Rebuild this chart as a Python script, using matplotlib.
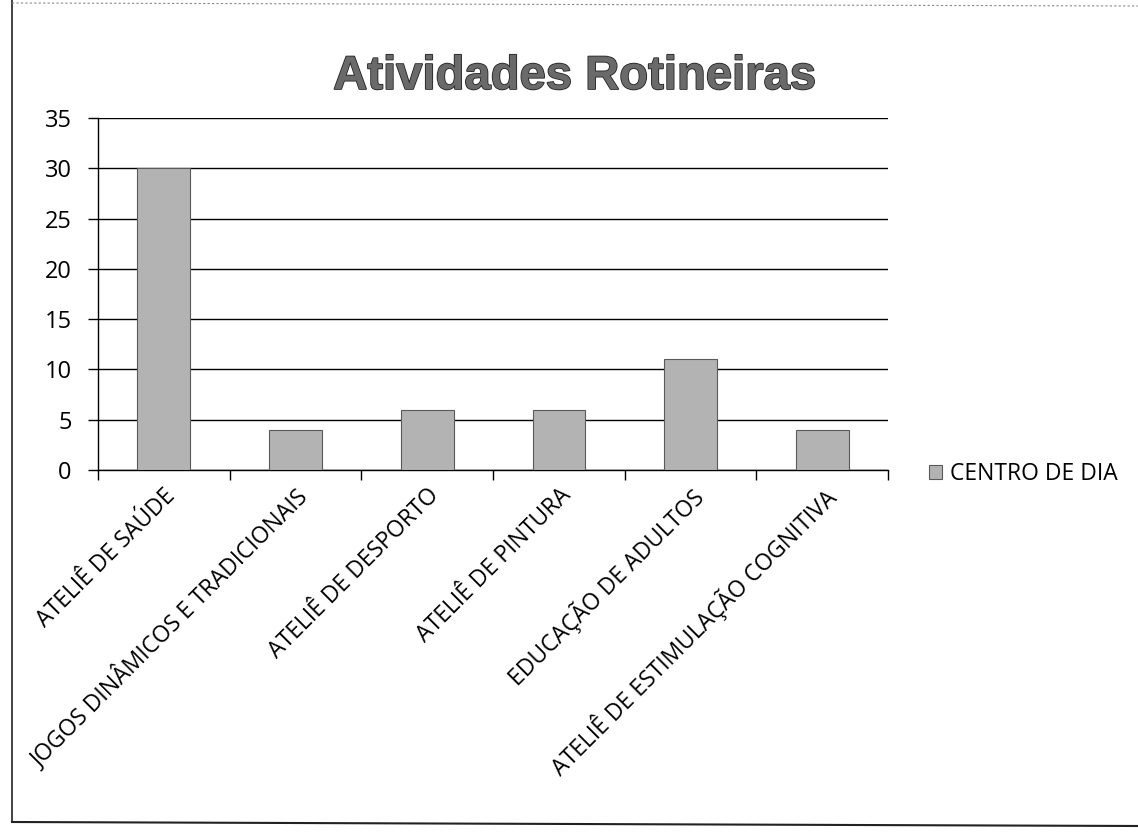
import matplotlib
matplotlib.use("Agg")
import matplotlib.pyplot as plt
from matplotlib.lines import Line2D
import matplotlib.patheffects as pe

categories = ["ATELIÊ DE SAÚDE", "JOGOS DINÂMICOS E TRADICIONAIS", "ATELIÊ DE DESPORTO",
              "ATELIÊ DE PINTURA", "EDUCAÇÃO DE ADULTOS", "ATELIÊ DE ESTIMULAÇÃO COGNITIVA"]
values = [30, 4, 6, 6, 11, 4]
series_name = "CENTRO DE DIA"
title = "Atividades Rotineiras"
yticks = [0, 5, 10, 15, 20, 25, 30, 35]

W, H = 1138, 835
fig = plt.figure(figsize=(W / 100, H / 100), dpi=100)
fig.patch.set_facecolor("white")

ax = fig.add_axes([98 / W, 1 - 470 / H, (888 - 98) / W, (470 - 118) / H])
x = list(range(len(categories)))
bars = ax.bar(x, values, width=0.4, color="#b3b3b3", edgecolor="#5a5a5a",
              linewidth=0.8, label=series_name, zorder=3)

ax.set_xlim(-0.5, len(categories) - 0.5)
ax.set_ylim(0, 35)
ax.set_yticks(yticks)
ax.set_yticklabels([str(v) for v in yticks], fontsize=17, family="Open Sans")
ax.yaxis.grid(True, color="black", linewidth=1.0, zorder=0)
ax.set_axisbelow(True)

ax.set_xticks(x)
ax.set_xticklabels(categories, rotation=45, ha="right", rotation_mode="anchor",
                   fontsize=16.5, family="Open Sans")
ax.set_xticks([i - 0.5 for i in range(len(categories) + 1)], minor=True)
ax.tick_params(axis="x", which="major", length=0, pad=10)
ax.tick_params(axis="x", which="minor", length=7, width=1, direction="out", color="black")
ax.tick_params(axis="y", length=7, width=1, direction="out", pad=12, color="black")

for s in ["top", "right"]:
    ax.spines[s].set_visible(False)
for s in ["left", "bottom"]:
    ax.spines[s].set_color("black")
    ax.spines[s].set_linewidth(1.0)

fig.text(575 / W, 1 - 77 / H, title, ha="center", va="center", fontsize=34,
         fontweight="bold", family="Liberation Sans", color="#6a6a6a",
         path_effects=[pe.withStroke(linewidth=1.2, foreground="#222222")])

leg = ax.legend(loc="center left", bbox_to_anchor=(929 / W, 1 - 474 / H),
                bbox_transform=fig.transFigure, frameon=False,
                prop={"family": "Open Sans", "size": 16.5},
                handlelength=0.55, handleheight=0.55, handletextpad=0.35,
                borderpad=0, borderaxespad=0)

# scanned page borders
fig.add_artist(Line2D([12 / W, 12 / W], [1 - 0 / H, 1 - 822 / H], color="#222222", lw=1.2))
fig.add_artist(Line2D([12 / W, 1], [1 - 822 / H, 1 - 826 / H], color="#222222", lw=1.5))
fig.add_artist(Line2D([12 / W, 1], [1 - 3 / H, 1 - 6 / H], color="#888888", lw=0.8, ls=(0, (2, 2))))

fig.savefig("out.png", dpi=100, facecolor="white")
